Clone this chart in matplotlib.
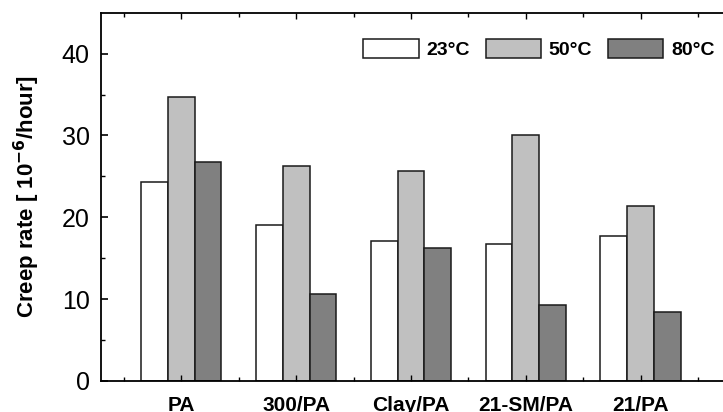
import matplotlib
matplotlib.use("Agg")
import matplotlib.pyplot as plt
import numpy as np

plt.rcParams['font.family'] = ['Liberation Sans', 'DejaVu Sans']

categories = ["PA", "300/PA", "Clay/PA", "21-SM/PA", "21/PA"]
series_labels = ["23°C", "50°C", "80°C"]
rate_23 = [24.3, 19.1, 17.1, 16.7, 17.7]
rate_50 = [34.7, 26.3, 25.6, 30.1, 21.4]
rate_80 = [26.7, 10.6, 16.3, 9.3, 8.4]
y_ticks = [0, 10, 20, 30, 40]

fills = ["#ffffff", "#c0c0c0", "#808080"]
width = 0.234

fig = plt.figure(figsize=(7.23, 4.12), dpi=100)
ax = fig.add_axes([100.7 / 723, 1 - 381 / 412, 1 - 100.7 / 723, (381 - 12.7) / 412])

x = np.arange(len(categories))
for i, (vals, lab, fc) in enumerate(zip([rate_23, rate_50, rate_80], series_labels, fills)):
    ax.bar(x + (i - 1) * width, vals, width, color=fc, edgecolor="#1a1a1a",
           linewidth=1.1, label=lab, zorder=1)

ax.set_xlim(-0.70, 4.715)
ax.set_ylim(0, 45)
ax.set_yticks(y_ticks)
ax.set_yticks([5, 15, 25, 35], minor=True)
ax.set_xticks(x)
ax.set_xticks(np.arange(-0.5, 5.0, 1.0), minor=True)
ax.set_xticklabels(categories, fontsize=15, fontweight="bold")
ax.tick_params(axis="y", which="major", direction="in", length=5, width=1.2,
               labelsize=18, pad=8, right=False)
ax.tick_params(axis="y", which="minor", direction="in", length=3, width=1.0, right=False)
ax.tick_params(axis="x", which="major", direction="in", length=4, width=1.0,
               pad=11, top=True)
ax.tick_params(axis="x", which="minor", direction="in", length=3, width=1.0, top=True)
for side in ("left", "bottom", "top"):
    ax.spines[side].set_linewidth(1.3)
ax.spines["right"].set_visible(False)

ax.set_ylabel("Creep rate [ 10$^{\\mathbf{-6}}$/hour]", fontsize=16, fontweight="bold",
              labelpad=14)

leg = ax.legend(loc="upper right", ncol=3, frameon=False,
                bbox_to_anchor=(1.005, 0.96), handlelength=2.85, handleheight=1.15,
                handletextpad=0.4, columnspacing=0.8, borderaxespad=0.2,
                prop={"weight": "bold", "size": 14})

fig.savefig("out.png", dpi=100)
